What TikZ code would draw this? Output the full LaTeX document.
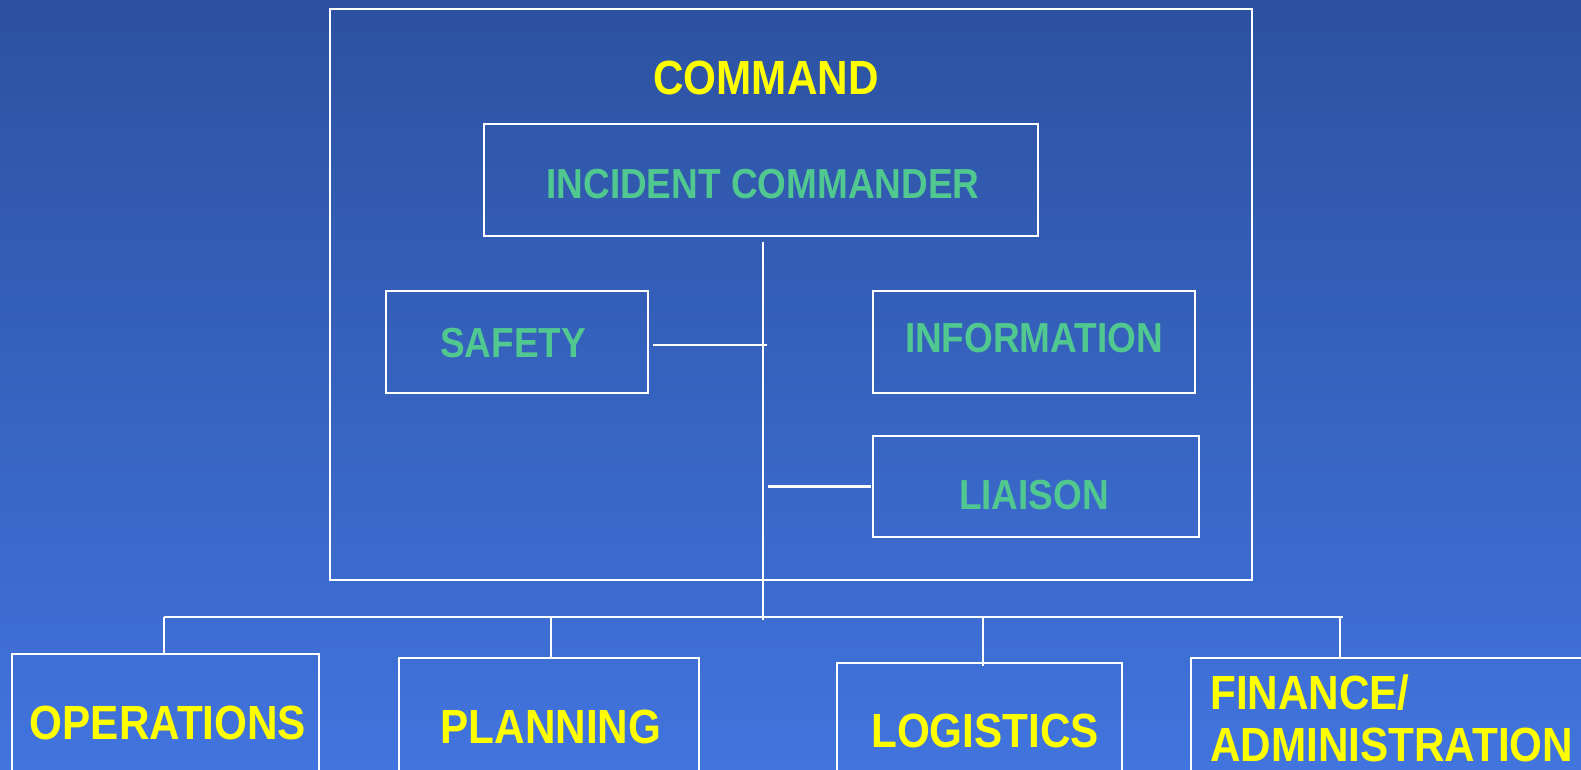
\documentclass[tikz,border=0pt]{standalone}
\usepackage{fontspec}
\setmainfont{Liberation Sans}[FakeStretch=0.88]
\definecolor{bgtop}{RGB}{44,81,160}
\definecolor{bgbot}{RGB}{65,116,222}
\definecolor{ictext}{RGB}{80,200,143}
\definecolor{ylw}{RGB}{255,255,0}
\begin{document}
\begin{tikzpicture}[x=1pt,y=-1pt,
  box/.style={draw=white, line width=2.5pt, rectangle, inner sep=0pt, outer sep=0pt, anchor=north west},
  conn/.style={draw=white, line width=2.5pt},
  ylab/.style={text=ylw, font=\bfseries\fontsize{48}{52}\selectfont, inner sep=0pt, anchor=base},
  glab/.style={text=ictext, font=\bfseries\fontsize{42}{46}\selectfont, inner sep=0pt, anchor=base}]
\useasboundingbox (0,0) rectangle (1581,770);
\shade[top color=bgtop, bottom color=bgbot] (0,0) rectangle (1581,770);

% boxes
\node[box, minimum width=922, minimum height=571] (cmdbox) at (330,9) {};
\node[box, minimum width=554, minimum height=112] (ic) at (484,124) {};
\node[box, minimum width=262, minimum height=102] (safety) at (386,291) {};
\node[box, minimum width=322, minimum height=102] (info) at (873,291) {};
\node[box, minimum width=326, minimum height=101] (liaison) at (873,436) {};
\node[box, minimum width=307, minimum height=150] (ops) at (12,654) {};
\node[box, minimum width=300, minimum height=150] (plan) at (399,658) {};
\node[box, minimum width=285, minimum height=150] (log) at (837,663) {};
\node[box, minimum width=420, minimum height=150] (fin) at (1191,658) {};

% labels
\node[ylab] (cmdt) at (766,95) {COMMAND};
\node[glab] (ict) at (763,199) {INCIDENT COMMANDER};
\node[glab] (safetyt) at (513,357) {SAFETY};
\node[glab] (infot) at (1034,352) {INFORMATION};
\node[glab] (liaisont) at (1034,509) {LIAISON};
\node[ylab] (opst) at (168,739) {OPERATIONS};
\node[ylab] (plant) at (551,743) {PLANNING};
\node[ylab] (logt) at (985,747) {LOGISTICS};
\node[ylab, anchor=base west] (fint1) at (1210,709) {FINANCE/};
\node[ylab, anchor=base west] (fint2) at (1210,761) {ADMINISTRATION};

% connectors
\coordinate (spinetop) at (763,242);
\coordinate (busL) at (164,617);
\coordinate (busR) at (1343,617);
\coordinate (finDrop) at (1340,617);
\draw[conn] (busL) -- (busR);
\draw[conn] (spinetop) -- ([yshift=-3pt]spinetop |- busL);
\draw[conn] ([xshift=5pt,yshift=-3pt]safety.east) -- ([xshift=4pt,yshift=-3pt]safety.east -| spinetop);
\draw[conn] ([xshift=-2pt]liaison.west) -- ([xshift=5pt]liaison.west -| spinetop);
\draw[conn] (busL) -- (busL |- ops.north);
\draw[conn] ([xshift=2pt]plan.north |- busL) -- ([xshift=2pt]plan.north);
\draw[conn] ([xshift=3.5pt]log.north |- busL) -- ([xshift=3.5pt,yshift=-3pt]log.north);
\draw[conn] (finDrop) -- (finDrop |- fin.north);
\end{tikzpicture}
\end{document}
